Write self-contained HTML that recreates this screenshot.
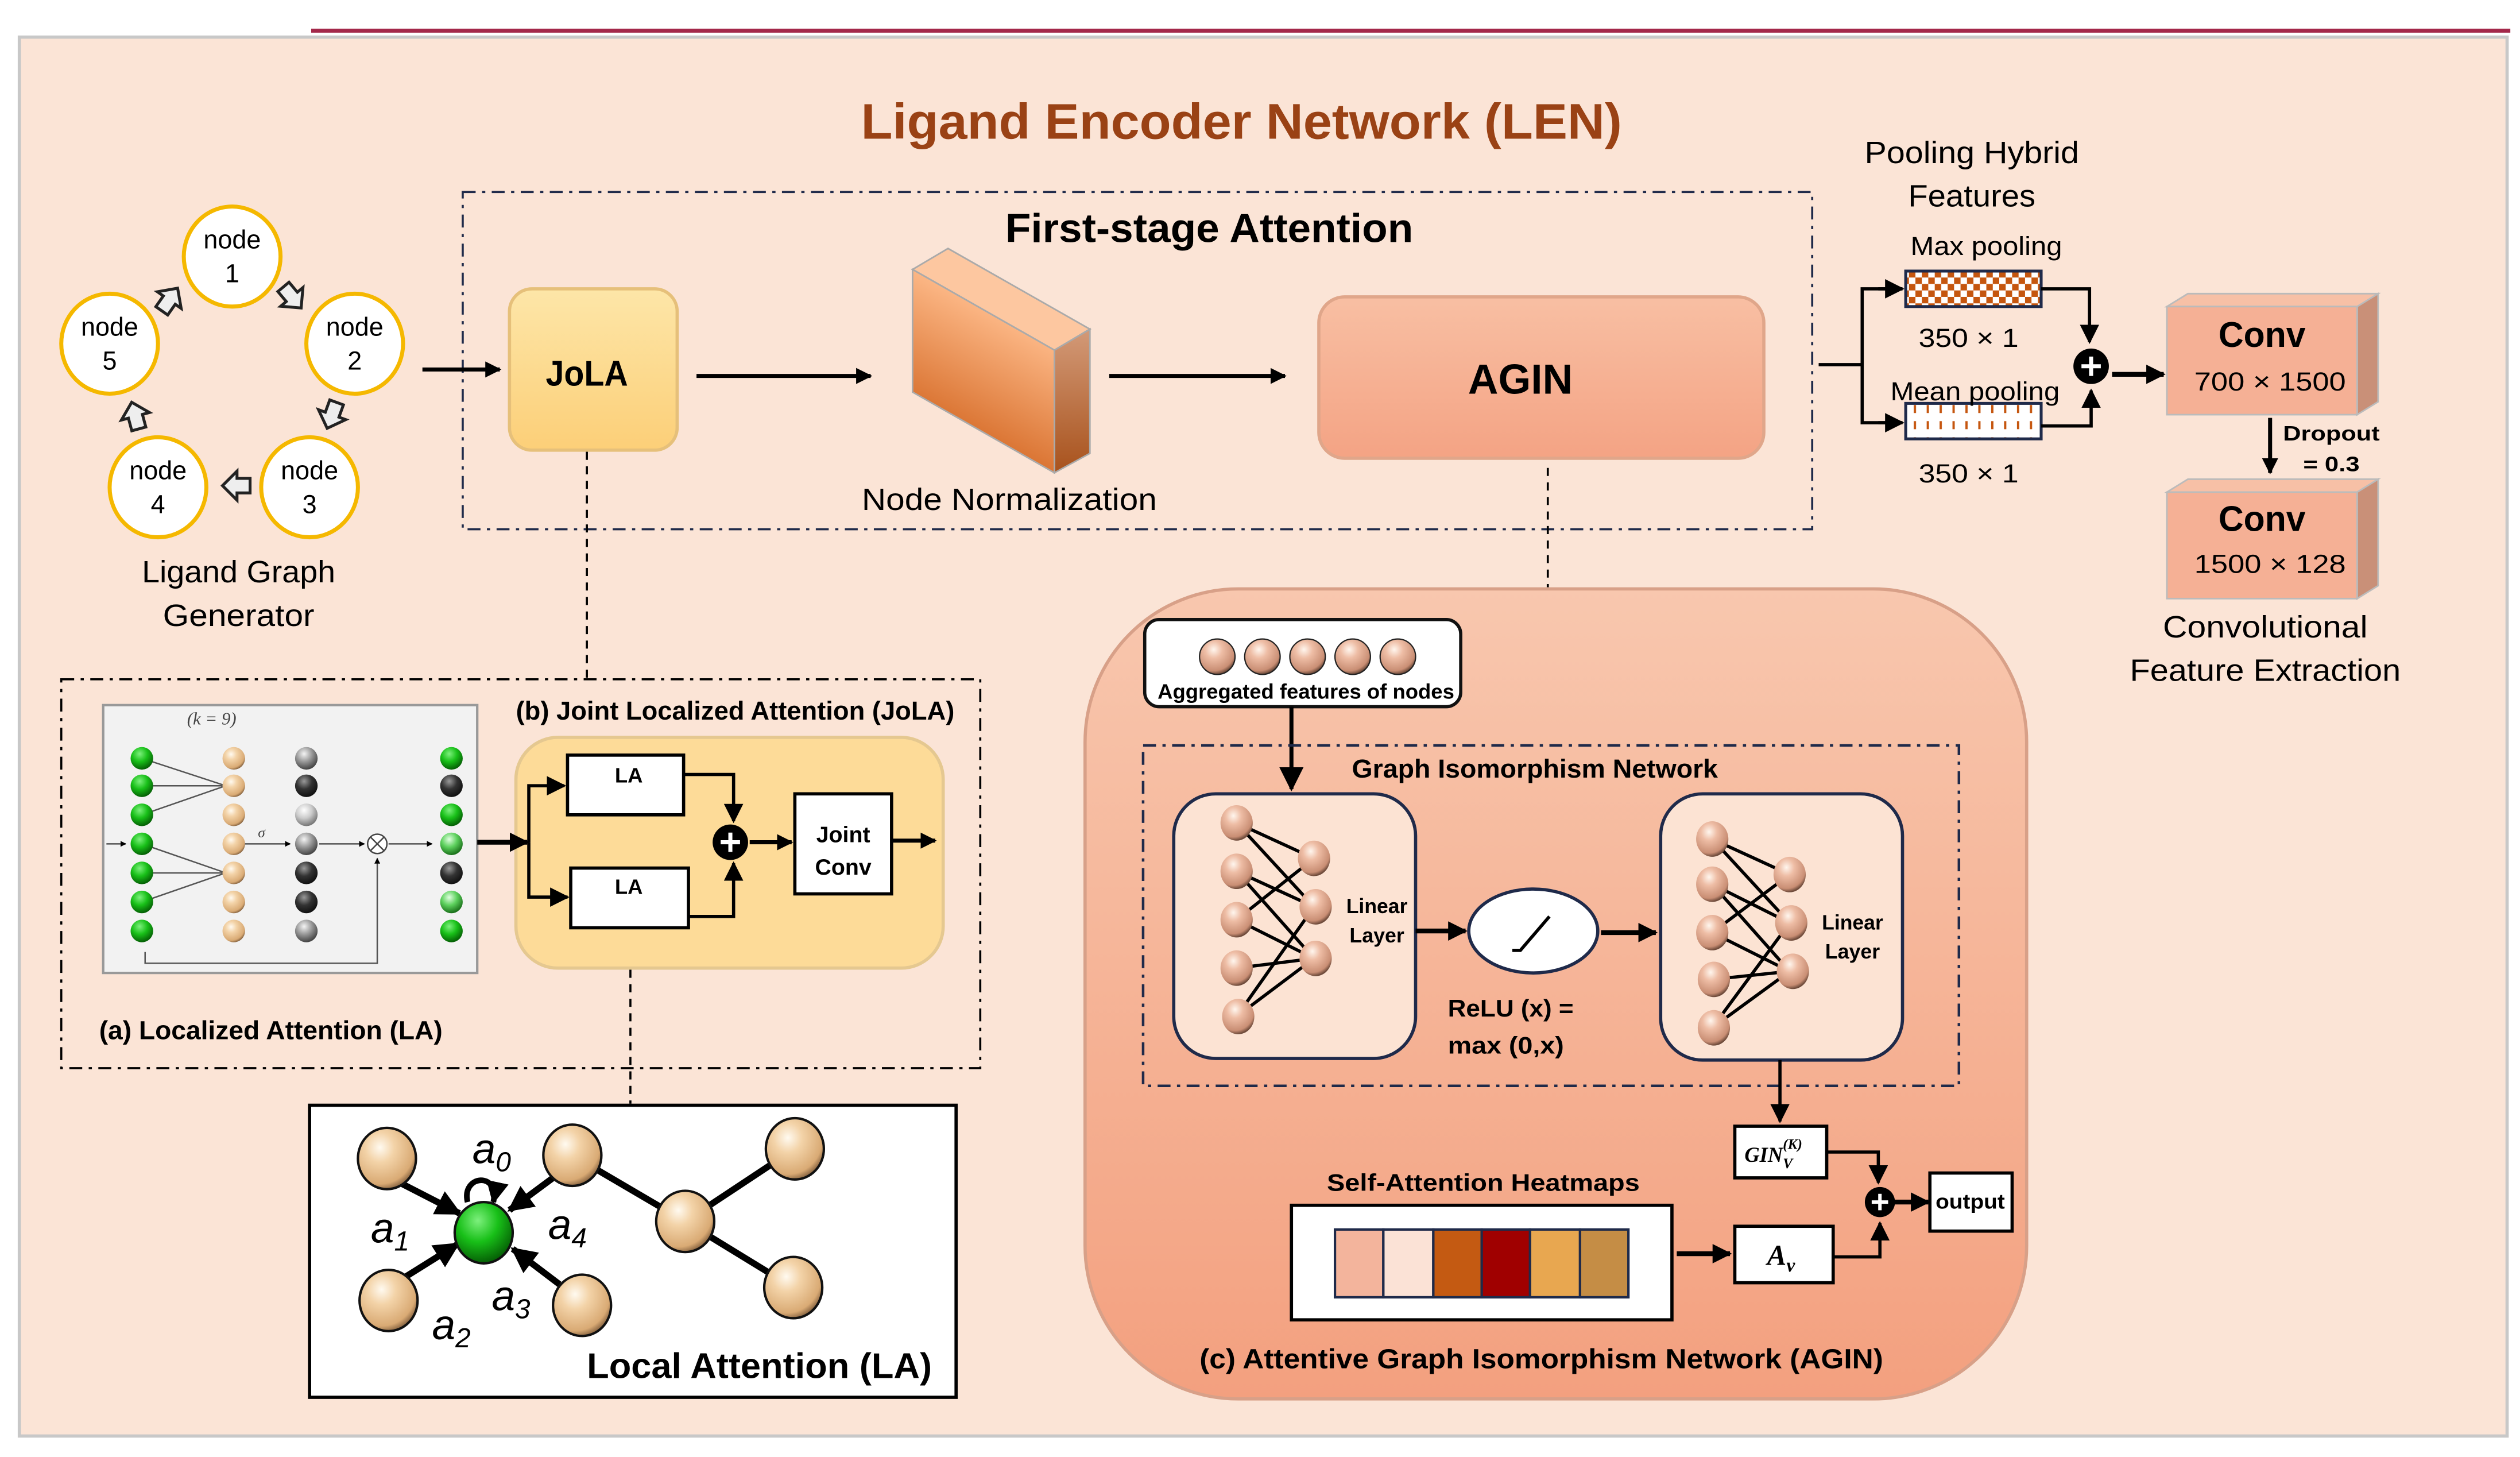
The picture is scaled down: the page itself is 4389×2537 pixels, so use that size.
<!DOCTYPE html>
<html><head><meta charset="utf-8"><style>
html,body{margin:0;padding:0;background:#fff;}
svg{display:block;}
text{font-family:"Liberation Sans",sans-serif;}
.b{font-weight:bold;}
.m{font-family:"Liberation Serif",serif;font-style:italic;}
</style></head><body>
<svg width="4389" height="2537" viewBox="0 0 1563 903" preserveAspectRatio="none" xmlns="http://www.w3.org/2000/svg">
<defs>
<radialGradient id="tan" cx="0.38" cy="0.32" r="0.7"><stop offset="0" stop-color="#fffaf0"/><stop offset="0.35" stop-color="#f3d3a8"/><stop offset="0.85" stop-color="#d9aa74"/><stop offset="1" stop-color="#8a6642"/></radialGradient>
<radialGradient id="pink" cx="0.4" cy="0.3" r="0.7"><stop offset="0" stop-color="#fff6ee"/><stop offset="0.35" stop-color="#eebda5"/><stop offset="0.85" stop-color="#c98e74"/><stop offset="1" stop-color="#6d4a3a"/></radialGradient>
<radialGradient id="grn" cx="0.4" cy="0.3" r="0.7"><stop offset="0" stop-color="#7df07d"/><stop offset="0.5" stop-color="#18c018"/><stop offset="1" stop-color="#056005"/></radialGradient>
<radialGradient id="lgrn" cx="0.4" cy="0.3" r="0.7"><stop offset="0" stop-color="#e0ffe0"/><stop offset="0.5" stop-color="#5cd05c"/><stop offset="1" stop-color="#1a701a"/></radialGradient>
<radialGradient id="gry" cx="0.4" cy="0.3" r="0.7"><stop offset="0" stop-color="#f4f4f4"/><stop offset="0.5" stop-color="#999"/><stop offset="1" stop-color="#444"/></radialGradient>
<radialGradient id="lgry" cx="0.4" cy="0.3" r="0.7"><stop offset="0" stop-color="#fff"/><stop offset="0.5" stop-color="#ccc"/><stop offset="1" stop-color="#777"/></radialGradient>
<radialGradient id="blk" cx="0.4" cy="0.3" r="0.7"><stop offset="0" stop-color="#999"/><stop offset="0.5" stop-color="#333"/><stop offset="1" stop-color="#111"/></radialGradient>
<linearGradient id="jola" x1="0" y1="0" x2="0" y2="1"><stop offset="0" stop-color="#fde6a8"/><stop offset="1" stop-color="#fccf78"/></linearGradient>
<linearGradient id="agin" x1="0" y1="0" x2="0" y2="1"><stop offset="0" stop-color="#f8bfa3"/><stop offset="1" stop-color="#f4a384"/></linearGradient>
<linearGradient id="big" x1="0" y1="0" x2="0" y2="1"><stop offset="0" stop-color="#f8c7ae"/><stop offset="1" stop-color="#f3a07f"/></linearGradient>
<linearGradient id="nnf" x1="0.3" y1="1" x2="0.6" y2="0.2"><stop offset="0" stop-color="#cd5a12"/><stop offset="1" stop-color="#fdb988"/></linearGradient>
<linearGradient id="nns" x1="0" y1="0" x2="0" y2="1"><stop offset="0" stop-color="#d39a78"/><stop offset="1" stop-color="#a8521c"/></linearGradient>
<pattern id="chk" width="8" height="8" patternUnits="userSpaceOnUse"><rect width="8" height="8" fill="#fff"/><rect width="4" height="4" fill="#c5560f"/><rect x="4" y="4" width="4" height="4" fill="#c5560f"/></pattern>
<pattern id="dsh" width="8" height="10" patternUnits="userSpaceOnUse"><rect width="8" height="10" fill="#fff"/><rect x="3" y="1" width="1.4" height="5" fill="#c5560f"/></pattern>
<marker id="ah" viewBox="0 0 10 10" refX="9" refY="5" markerWidth="4" markerHeight="4" orient="auto"><path d="M0,0L10,5L0,10z" fill="#000"/></marker>
<marker id="ahs" viewBox="0 0 10 10" refX="9" refY="5" markerWidth="6" markerHeight="6" orient="auto"><path d="M0,0L10,5L0,10z" fill="#000"/></marker>
<g id="blkarr"><path d="M-9,-5L0,-5L0,-10L10,0L0,10L0,5L-9,5Z" fill="#eee" stroke="#222" stroke-width="2"/></g>
<g id="plus"><circle r="11" fill="#000"/><path d="M-6,0H6M0,-6V6" stroke="#fff" stroke-width="2.5"/></g>
</defs>

<rect width="1563" height="903" fill="#fff"/>
<line x1="193" y1="19" x2="1557" y2="19" stroke="#a3284a" stroke-width="2.5"/>
<rect x="12" y="23" width="1543" height="867" fill="#fbe4d6" stroke="#c8c8c8" stroke-width="2"/>

<text x="770" y="86" text-anchor="middle" class="b" font-size="31" fill="#9a4215" textLength="472" lengthAdjust="spacingAndGlyphs">Ligand Encoder Network (LEN)</text>

<!-- First stage box -->
<rect x="287" y="119" width="837" height="209" fill="none" stroke="#1f2a4a" stroke-width="1.3" stroke-dasharray="8,4,2,4"/>
<text x="750" y="150" text-anchor="middle" class="b" font-size="25" textLength="253" lengthAdjust="spacingAndGlyphs">First-stage Attention</text>

<!-- ligand graph -->
<g stroke="#f5b800" stroke-width="2.5" fill="#fff">
<ellipse cx="144" cy="159" rx="30" ry="31"/><ellipse cx="220" cy="213" rx="30" ry="31"/><ellipse cx="192" cy="302" rx="30" ry="31"/><ellipse cx="98" cy="302" rx="30" ry="31"/><ellipse cx="68" cy="213" rx="30" ry="31"/>
</g>
<g font-size="16" text-anchor="middle">
<text x="144" y="154">node</text><text x="144" y="175">1</text>
<text x="220" y="208">node</text><text x="220" y="229">2</text>
<text x="192" y="297">node</text><text x="192" y="318">3</text>
<text x="98" y="297">node</text><text x="98" y="318">4</text>
<text x="68" y="208">node</text><text x="68" y="229">5</text>
</g>
<use href="#blkarr" transform="translate(181,184) rotate(50) scale(0.9)"/>
<use href="#blkarr" transform="translate(206,257) rotate(110) scale(0.9)"/>
<use href="#blkarr" transform="translate(147,301) rotate(180) scale(0.9)"/>
<use href="#blkarr" transform="translate(84,258) rotate(-105) scale(0.9)"/>
<use href="#blkarr" transform="translate(105,186) rotate(-55) scale(0.9)"/>
<text x="148" y="361" text-anchor="middle" font-size="19" textLength="120" lengthAdjust="spacingAndGlyphs">Ligand Graph</text>
<text x="148" y="388" text-anchor="middle" font-size="19" textLength="94" lengthAdjust="spacingAndGlyphs">Generator</text>

<!-- main arrows -->
<g stroke="#000" stroke-width="2.5" fill="none">
<line x1="262" y1="229" x2="310" y2="229" marker-end="url(#ah)"/>
<line x1="432" y1="233" x2="540" y2="233" marker-end="url(#ah)"/>
<line x1="688" y1="233" x2="797" y2="233" marker-end="url(#ah)"/>
</g>

<!-- JoLA -->
<rect x="316" y="179" width="104" height="100" rx="14" fill="url(#jola)" stroke="#e6c07a" stroke-width="2"/>
<text x="364" y="239" text-anchor="middle" class="b" font-size="22" textLength="51" lengthAdjust="spacingAndGlyphs">JoLA</text>

<!-- Node normalization -->
<polygon points="566,167 588,154 676,204 654,217" fill="#fdc7a0" stroke="#aaa" stroke-width="1"/>
<polygon points="654,217 676,204 676,281 654,293" fill="url(#nns)" stroke="#aaa" stroke-width="1"/>
<polygon points="566,167 654,217 654,293 566,243" fill="url(#nnf)" stroke="#aaa" stroke-width="1"/>
<text x="626" y="316" text-anchor="middle" font-size="19" textLength="183" lengthAdjust="spacingAndGlyphs">Node Normalization</text>

<!-- AGIN -->
<rect x="818" y="184" width="276" height="100" rx="16" fill="url(#agin)" stroke="#e0a68a" stroke-width="2"/>
<text x="943" y="244" text-anchor="middle" class="b" font-size="26" textLength="65" lengthAdjust="spacingAndGlyphs">AGIN</text>

<!-- pooling -->
<text x="1223" y="101" text-anchor="middle" font-size="19" textLength="133" lengthAdjust="spacingAndGlyphs">Pooling Hybrid</text>
<text x="1223" y="128" text-anchor="middle" font-size="19" textLength="79" lengthAdjust="spacingAndGlyphs">Features</text>
<text x="1232" y="158" text-anchor="middle" font-size="16" textLength="94" lengthAdjust="spacingAndGlyphs">Max pooling</text>
<rect x="1182" y="168" width="84" height="22" fill="url(#chk)" stroke="#1f2a4a" stroke-width="1.8"/>
<text x="1221" y="215" text-anchor="middle" font-size="16" textLength="62" lengthAdjust="spacingAndGlyphs">350 × 1</text>
<rect x="1182" y="250" width="84" height="22" fill="url(#dsh)" stroke="#1f2a4a" stroke-width="1.8"/>
<text x="1225" y="248" text-anchor="middle" font-size="16" textLength="105" lengthAdjust="spacingAndGlyphs">Mean pooling</text>
<text x="1221" y="299" text-anchor="middle" font-size="16" textLength="62" lengthAdjust="spacingAndGlyphs">350 × 1</text>
<g stroke="#000" stroke-width="2" fill="none">
<line x1="1128" y1="226" x2="1155" y2="226"/>
<polyline points="1180,179 1155,179 1155,262 1180,262"/>
<line x1="1165" y1="179" x2="1180" y2="179" marker-end="url(#ahs)"/>
<line x1="1165" y1="262" x2="1180" y2="262" marker-end="url(#ahs)"/>
<polyline points="1266,179 1296,179 1296,212" marker-end="url(#ahs)"/>
<polyline points="1266,264 1297,264 1297,242" marker-end="url(#ahs)"/>
<line x1="1310" y1="232" x2="1342" y2="232" stroke-width="3" marker-end="url(#ah)"/>
<line x1="1408" y1="259" x2="1408" y2="293" stroke-width="2.5" marker-end="url(#ah)"/>
</g>
<use href="#plus" transform="translate(1297,227)"/>

<!-- conv boxes -->
<g>
<polygon points="1344,190 1357,182 1475,182 1462,190" fill="#f7c0a6" stroke="#bbb" stroke-width="1"/>
<polygon points="1462,190 1475,182 1475,249 1462,257" fill="#c99078" stroke="#bbb" stroke-width="1"/>
<rect x="1344" y="190" width="118" height="67" fill="#f5b095" stroke="#bbb" stroke-width="1"/>
<text x="1403" y="215" text-anchor="middle" class="b" font-size="22" textLength="54" lengthAdjust="spacingAndGlyphs">Conv</text>
<text x="1408" y="242" text-anchor="middle" font-size="16" textLength="94" lengthAdjust="spacingAndGlyphs">700 × 1500</text>
<polygon points="1344,305 1357,297 1475,297 1462,305" fill="#f7c0a6" stroke="#bbb" stroke-width="1"/>
<polygon points="1462,305 1475,297 1475,363 1462,371" fill="#c99078" stroke="#bbb" stroke-width="1"/>
<rect x="1344" y="305" width="118" height="66" fill="#f5b095" stroke="#bbb" stroke-width="1"/>
<text x="1403" y="329" text-anchor="middle" class="b" font-size="22" textLength="54" lengthAdjust="spacingAndGlyphs">Conv</text>
<text x="1408" y="355" text-anchor="middle" font-size="16" textLength="94" lengthAdjust="spacingAndGlyphs">1500 × 128</text>
</g>
<text x="1446" y="273" text-anchor="middle" class="b" font-size="13" textLength="60" lengthAdjust="spacingAndGlyphs">Dropout</text>
<text x="1446" y="292" text-anchor="middle" class="b" font-size="13" textLength="35" lengthAdjust="spacingAndGlyphs">= 0.3</text>
<text x="1405" y="395" text-anchor="middle" font-size="19" textLength="127" lengthAdjust="spacingAndGlyphs">Convolutional</text>
<text x="1405" y="422" text-anchor="middle" font-size="19" textLength="168" lengthAdjust="spacingAndGlyphs">Feature Extraction</text>

<!-- dashed connectors -->
<g stroke="#000" stroke-width="1.3" stroke-dasharray="5,4" fill="none">
<line x1="364" y1="280" x2="364" y2="420"/>
<line x1="960" y1="290" x2="960" y2="364"/>
<line x1="391" y1="601" x2="391" y2="684"/>
</g>

<!-- LA / JoLA dashed region -->
<rect x="38" y="421" width="570" height="241" fill="none" stroke="#000" stroke-width="1.3" stroke-dasharray="8,4,2,4"/>
<rect x="64" y="437" width="232" height="166" fill="#f2f2f2" stroke="#999" stroke-width="1.5"/>
<text x="116" y="449" class="m" font-size="11" fill="#444">(k = 9)</text>
<g stroke="#555" stroke-width="0.9" fill="none">
<line x1="88" y1="470" x2="140" y2="487"/><line x1="88" y1="487" x2="140" y2="487"/><line x1="88" y1="505" x2="140" y2="487"/>
<line x1="88" y1="523" x2="140" y2="541"/><line x1="88" y1="541" x2="140" y2="541"/><line x1="88" y1="559" x2="140" y2="541"/>
<line x1="66" y1="523" x2="78" y2="523" marker-end="url(#ah)"/>
<line x1="152" y1="523" x2="180" y2="523" marker-end="url(#ah)"/>
<line x1="198" y1="523" x2="226" y2="523" marker-end="url(#ah)"/>
<line x1="241" y1="523" x2="268" y2="523" marker-end="url(#ah)"/>
<polyline points="90,590 90,597 234,597 234,532" marker-end="url(#ah)"/>
</g>
<circle cx="234" cy="523" r="6" fill="#fff" stroke="#444" stroke-width="0.9"/>
<path d="M230,519L238,527M238,519L230,527" stroke="#444" stroke-width="0.9"/>
<text x="160" y="519" class="m" font-size="9" fill="#444">σ</text>
<g>
<circle cx="88" cy="470" r="7" fill="url(#grn)"/><circle cx="88" cy="487" r="7" fill="url(#grn)"/><circle cx="88" cy="505" r="7" fill="url(#grn)"/><circle cx="88" cy="523" r="7" fill="url(#grn)"/><circle cx="88" cy="541" r="7" fill="url(#grn)"/><circle cx="88" cy="559" r="7" fill="url(#grn)"/><circle cx="88" cy="577" r="7" fill="url(#grn)"/>
<circle cx="145" cy="470" r="7" fill="url(#tan)"/><circle cx="145" cy="487" r="7" fill="url(#tan)"/><circle cx="145" cy="505" r="7" fill="url(#tan)"/><circle cx="145" cy="523" r="7" fill="url(#tan)"/><circle cx="145" cy="541" r="7" fill="url(#tan)"/><circle cx="145" cy="559" r="7" fill="url(#tan)"/><circle cx="145" cy="577" r="7" fill="url(#tan)"/>
<circle cx="190" cy="470" r="7" fill="url(#gry)"/><circle cx="190" cy="487" r="7" fill="url(#blk)"/><circle cx="190" cy="505" r="7" fill="url(#lgry)"/><circle cx="190" cy="523" r="7" fill="url(#gry)"/><circle cx="190" cy="541" r="7" fill="url(#blk)"/><circle cx="190" cy="559" r="7" fill="url(#blk)"/><circle cx="190" cy="577" r="7" fill="url(#gry)"/>
<circle cx="280" cy="470" r="7" fill="url(#grn)"/><circle cx="280" cy="487" r="7" fill="url(#blk)"/><circle cx="280" cy="505" r="7" fill="url(#grn)"/><circle cx="280" cy="523" r="7" fill="url(#lgrn)"/><circle cx="280" cy="541" r="7" fill="url(#blk)"/><circle cx="280" cy="559" r="7" fill="url(#lgrn)"/><circle cx="280" cy="577" r="7" fill="url(#grn)"/>
</g>
<text x="456" y="446" text-anchor="middle" class="b" font-size="16" textLength="272" lengthAdjust="spacingAndGlyphs">(b) Joint Localized Attention (JoLA)</text>
<text x="168" y="644" text-anchor="middle" class="b" font-size="16" textLength="213" lengthAdjust="spacingAndGlyphs">(a) Localized Attention (LA)</text>

<rect x="320" y="457" width="265" height="143" rx="26" fill="#fddb98" stroke="#e5c890" stroke-width="2"/>
<rect x="352" y="468" width="72" height="37" fill="#fff" stroke="#000" stroke-width="2"/>
<rect x="354" y="538" width="73" height="37" fill="#fff" stroke="#000" stroke-width="2"/>
<rect x="493" y="492" width="60" height="62" fill="#fff" stroke="#000" stroke-width="2"/>
<text x="390" y="485" text-anchor="middle" class="b" font-size="13">LA</text>
<text x="390" y="554" text-anchor="middle" class="b" font-size="13">LA</text>
<text x="523" y="522" text-anchor="middle" class="b" font-size="14">Joint</text>
<text x="523" y="542" text-anchor="middle" class="b" font-size="14">Conv</text>
<g stroke="#000" stroke-width="2" fill="none">
<line x1="296" y1="522" x2="327" y2="522" stroke-width="3" marker-end="url(#ah)"/>
<polyline points="328,522 328,487 350,487" marker-end="url(#ahs)"/>
<polyline points="328,522 328,556 352,556" marker-end="url(#ahs)"/>
<polyline points="424,480 455,480 455,509" marker-end="url(#ahs)"/>
<polyline points="427,568 455,568 455,535" marker-end="url(#ahs)"/>
<line x1="465" y1="522" x2="491" y2="522" stroke-width="2.5" marker-end="url(#ah)"/>
<line x1="553" y1="521" x2="580" y2="521" stroke-width="2.5" marker-end="url(#ah)"/>
</g>
<use href="#plus" transform="translate(453,522)"/>

<!-- Local attention box -->
<rect x="192" y="685" width="401" height="181" fill="#fff" stroke="#000" stroke-width="2"/>
<g stroke="#000" stroke-width="4" fill="none">
<line x1="355" y1="716" x2="425" y2="757"/><line x1="425" y1="757" x2="493" y2="712"/><line x1="425" y1="757" x2="492" y2="798"/>
<line x1="248" y1="733" x2="285" y2="752" marker-end="url(#ah)"/>
<line x1="343" y1="730" x2="316" y2="750" marker-end="url(#ah)"/>
<line x1="252" y1="791" x2="284" y2="771" marker-end="url(#ah)"/>
<line x1="347" y1="796" x2="318" y2="774" marker-end="url(#ah)"/>
<path d="M290,745 C286,728 310,726 306,745" stroke-width="3.5" marker-end="url(#ah)"/>
</g>
<g stroke="#111" stroke-width="1.5">
<ellipse cx="240" cy="718" rx="18" ry="19" fill="url(#tan)"/>
<ellipse cx="355" cy="716" rx="18" ry="19" fill="url(#tan)"/>
<ellipse cx="493" cy="712" rx="18" ry="19" fill="url(#tan)"/>
<ellipse cx="425" cy="757" rx="18" ry="19" fill="url(#tan)"/>
<ellipse cx="492" cy="798" rx="18" ry="19" fill="url(#tan)"/>
<ellipse cx="241" cy="806" rx="18" ry="19" fill="url(#tan)"/>
<ellipse cx="361" cy="809" rx="18" ry="19" fill="url(#tan)"/>
<ellipse cx="300" cy="764" rx="18" ry="19" fill="url(#grn)"/>
</g>
<g class="m" font-size="26" fill="#000">
<text x="293" y="721">a<tspan font-size="17" dy="5">0</tspan></text>
<text x="230" y="770">a<tspan font-size="17" dy="5">1</tspan></text>
<text x="340" y="768">a<tspan font-size="17" dy="5">4</tspan></text>
<text x="268" y="830">a<tspan font-size="17" dy="5">2</tspan></text>
<text x="305" y="812">a<tspan font-size="17" dy="5">3</tspan></text>
</g>
<text x="471" y="854" text-anchor="middle" class="b" font-size="22" textLength="214" lengthAdjust="spacingAndGlyphs">Local Attention (LA)</text>

<!-- AGIN big panel -->
<rect x="673" y="365" width="584" height="502" rx="95" fill="url(#big)" stroke="#d8a088" stroke-width="2"/>
<rect x="710" y="384" width="196" height="54" rx="9" fill="#fff" stroke="#111" stroke-width="2"/>
<g stroke="#222" stroke-width="0.8">
<circle cx="755" cy="407" r="11" fill="url(#pink)"/><circle cx="783" cy="407" r="11" fill="url(#pink)"/><circle cx="811" cy="407" r="11" fill="url(#pink)"/><circle cx="839" cy="407" r="11" fill="url(#pink)"/><circle cx="867" cy="407" r="11" fill="url(#pink)"/>
</g>
<text x="810" y="433" text-anchor="middle" class="b" font-size="13" textLength="184" lengthAdjust="spacingAndGlyphs">Aggregated features of nodes</text>
<line x1="801" y1="438" x2="801" y2="489" stroke="#000" stroke-width="2.5" marker-end="url(#ahs)"/>

<rect x="709" y="462" width="506" height="211" fill="none" stroke="#1f2a4a" stroke-width="1.6" stroke-dasharray="8,4,2,4"/>
<text x="952" y="482" text-anchor="middle" class="b" font-size="16" textLength="227" lengthAdjust="spacingAndGlyphs">Graph Isomorphism Network</text>

<rect x="728" y="492" width="150" height="164" rx="26" fill="#fce3d3" stroke="#1f2a4a" stroke-width="2"/>
<rect x="1030" y="492" width="150" height="165" rx="26" fill="#fce3d3" stroke="#1f2a4a" stroke-width="2"/>
<g stroke="#000" stroke-width="2">
<line x1="767" y1="510" x2="815" y2="532"/><line x1="767" y1="510" x2="815" y2="562"/><line x1="767" y1="540" x2="815" y2="562"/><line x1="767" y1="540" x2="815" y2="594"/><line x1="767" y1="570" x2="815" y2="532"/><line x1="767" y1="570" x2="815" y2="594"/><line x1="767" y1="600" x2="815" y2="594"/><line x1="767" y1="630" x2="815" y2="594"/><line x1="767" y1="630" x2="815" y2="562"/>
<line x1="1062" y1="520" x2="1110" y2="542"/><line x1="1062" y1="520" x2="1110" y2="572"/><line x1="1062" y1="548" x2="1110" y2="572"/><line x1="1062" y1="548" x2="1110" y2="602"/><line x1="1062" y1="578" x2="1110" y2="542"/><line x1="1062" y1="578" x2="1110" y2="602"/><line x1="1062" y1="607" x2="1110" y2="602"/><line x1="1062" y1="637" x2="1110" y2="602"/><line x1="1062" y1="637" x2="1110" y2="572"/>
</g>
<g>
<ellipse cx="767" cy="510" rx="10" ry="11" fill="url(#pink)"/><ellipse cx="767" cy="540" rx="10" ry="11" fill="url(#pink)"/><ellipse cx="767" cy="570" rx="10" ry="11" fill="url(#pink)"/><ellipse cx="767" cy="600" rx="10" ry="11" fill="url(#pink)"/><ellipse cx="768" cy="630" rx="10" ry="11" fill="url(#pink)"/>
<ellipse cx="815" cy="532" rx="10" ry="11" fill="url(#pink)"/><ellipse cx="816" cy="562" rx="10" ry="11" fill="url(#pink)"/><ellipse cx="816" cy="594" rx="10" ry="11" fill="url(#pink)"/>
<ellipse cx="1062" cy="520" rx="10" ry="11" fill="url(#pink)"/><ellipse cx="1062" cy="548" rx="10" ry="11" fill="url(#pink)"/><ellipse cx="1062" cy="578" rx="10" ry="11" fill="url(#pink)"/><ellipse cx="1063" cy="607" rx="10" ry="11" fill="url(#pink)"/><ellipse cx="1063" cy="637" rx="10" ry="11" fill="url(#pink)"/>
<ellipse cx="1110" cy="542" rx="10" ry="11" fill="url(#pink)"/><ellipse cx="1111" cy="572" rx="10" ry="11" fill="url(#pink)"/><ellipse cx="1112" cy="602" rx="10" ry="11" fill="url(#pink)"/>
</g>
<text x="854" y="566" text-anchor="middle" class="b" font-size="13" textLength="38" lengthAdjust="spacingAndGlyphs">Linear</text>
<text x="854" y="584" text-anchor="middle" class="b" font-size="13" textLength="34" lengthAdjust="spacingAndGlyphs">Layer</text>
<text x="1149" y="576" text-anchor="middle" class="b" font-size="13" textLength="38" lengthAdjust="spacingAndGlyphs">Linear</text>
<text x="1149" y="594" text-anchor="middle" class="b" font-size="13" textLength="34" lengthAdjust="spacingAndGlyphs">Layer</text>

<ellipse cx="951" cy="577" rx="40" ry="26" fill="#fff" stroke="#1f2a4a" stroke-width="2"/>
<path d="M938,589 L943,589 L961,568" stroke="#000" stroke-width="2" fill="none"/>
<g stroke="#000" stroke-width="3" fill="none">
<line x1="878" y1="577" x2="909" y2="577" marker-end="url(#ah)"/>
<line x1="993" y1="578" x2="1027" y2="578" marker-end="url(#ah)"/>
</g>
<text x="937" y="630" text-anchor="middle" class="b" font-size="15" textLength="78" lengthAdjust="spacingAndGlyphs">ReLU (x) =</text>
<text x="934" y="653" text-anchor="middle" class="b" font-size="15" textLength="72" lengthAdjust="spacingAndGlyphs">max (0,x)</text>

<line x1="1104" y1="657" x2="1104" y2="695" stroke="#000" stroke-width="2" marker-end="url(#ahs)"/>
<rect x="1076" y="698" width="57" height="32" fill="#fff" stroke="#000" stroke-width="2"/>
<text x="1082" y="720" class="m b" font-size="13">GIN<tspan font-size="9" dy="4">V</tspan><tspan font-size="9" dx="-6" dy="-12">(K)</tspan></text>
<rect x="1197" y="727" width="51" height="36" fill="#fff" stroke="#000" stroke-width="2"/>
<text x="1222" y="749" text-anchor="middle" class="b" font-size="13" textLength="43" lengthAdjust="spacingAndGlyphs">output</text>
<text x="920" y="738" text-anchor="middle" class="b" font-size="15" textLength="194" lengthAdjust="spacingAndGlyphs">Self-Attention Heatmaps</text>
<rect x="801" y="747" width="236" height="71" fill="#fff" stroke="#000" stroke-width="2"/>
<g stroke="#1f2a4a" stroke-width="1.5">
<rect x="828" y="762" width="30" height="42" fill="#f3b49c"/>
<rect x="858" y="762" width="31" height="42" fill="#fbe2d6"/>
<rect x="889" y="762" width="30" height="42" fill="#c45a12"/>
<rect x="919" y="762" width="30" height="42" fill="#a00000"/>
<rect x="949" y="762" width="31" height="42" fill="#e8a750"/>
<rect x="980" y="762" width="30" height="42" fill="#c58d45"/>
</g>
<rect x="1076" y="760" width="61" height="35" fill="#fff" stroke="#000" stroke-width="2"/>
<text x="1096" y="784" class="m b" font-size="18">A<tspan font-size="12" dy="4">v</tspan></text>
<g stroke="#000" stroke-width="2" fill="none">
<line x1="1040" y1="777" x2="1073" y2="777" stroke-width="3" marker-end="url(#ah)"/>
<polyline points="1133,714 1165,714 1165,733" marker-end="url(#ahs)"/>
<polyline points="1137,779 1166,779 1166,758" marker-end="url(#ahs)"/>
<line x1="1175" y1="745" x2="1196" y2="745" stroke-width="3" marker-end="url(#ah)"/>
</g>
<g transform="translate(1166,745) scale(0.85)"><use href="#plus"/></g>
<text x="956" y="848" text-anchor="middle" class="b" font-size="17" textLength="424" lengthAdjust="spacingAndGlyphs">(c) Attentive Graph Isomorphism Network (AGIN)</text>
</svg>
</body></html>
